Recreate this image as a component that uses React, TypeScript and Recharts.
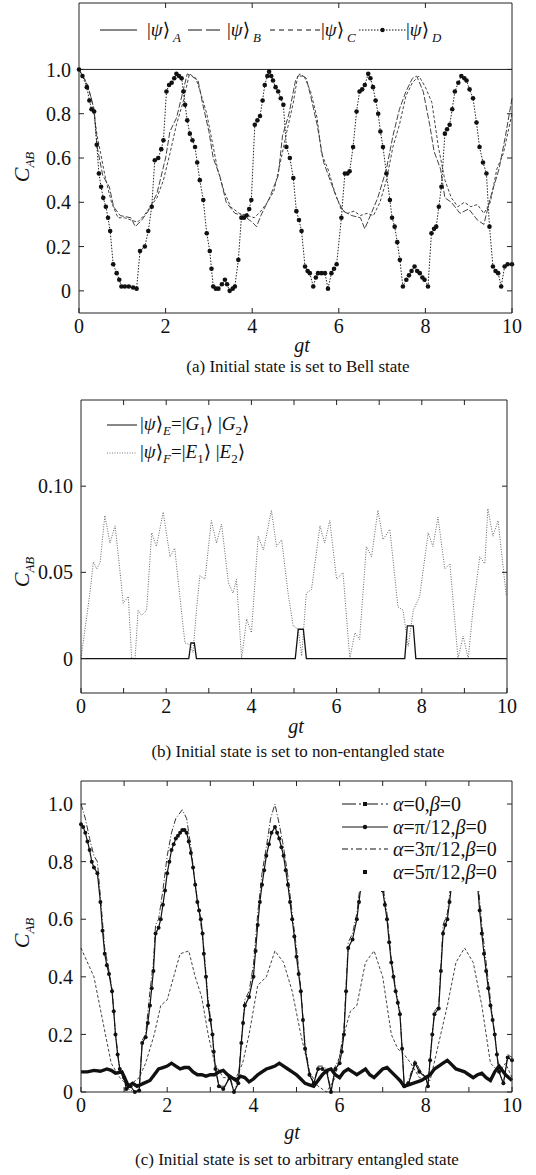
import React from "react";
import { LineChart, Line, XAxis, YAxis, Legend } from "recharts";

const serif = "'Liberation Serif', 'Times New Roman', Tinos, 'DejaVu Serif', serif";
const INK = "#111";

// ---- panel (a): Bell states ----
const gtTicksEven = [0, 2, 4, 6, 8, 10];
const gtTicksAll = [0, 1, 2, 3, 4, 5, 6, 7, 8, 9, 10];
const cTicksA = [0, 0.2, 0.4, 0.6, 0.8, 1.0];
const cTicksB = [0, 0.05, 0.1];

const psiA: [number, number][] = [[0, 1], [10, 1]];
const psiB: [number, number][] = [
  [0, 1.0], [0.2, 0.93], [0.35, 0.82], [0.42, 0.65], [0.55, 0.52], [0.7, 0.47], [0.8, 0.38],
  [0.95, 0.34], [1.2, 0.33], [1.3, 0.29], [1.45, 0.32], [1.6, 0.36], [1.8, 0.44], [2.0, 0.6],
  [2.1, 0.72], [2.25, 0.78], [2.4, 0.9], [2.5, 0.98], [2.6, 0.97], [2.75, 0.95], [2.85, 0.85],
  [3.0, 0.72], [3.1, 0.6], [3.25, 0.52], [3.4, 0.4], [3.6, 0.35], [3.8, 0.34], [4.0, 0.31],
  [4.1, 0.29], [4.2, 0.34], [4.4, 0.42], [4.6, 0.52], [4.7, 0.7], [4.85, 0.8], [5.0, 0.95],
  [5.1, 0.98], [5.25, 0.96], [5.35, 0.88], [5.5, 0.75], [5.65, 0.58], [5.8, 0.5], [5.95, 0.42],
  [6.1, 0.36], [6.3, 0.34], [6.5, 0.33], [6.6, 0.28], [6.75, 0.35], [6.9, 0.42], [7.1, 0.55],
  [7.25, 0.7], [7.4, 0.82], [7.55, 0.9], [7.7, 0.96], [7.8, 0.97], [7.95, 0.9], [8.1, 0.75],
  [8.2, 0.63], [8.35, 0.55], [8.45, 0.42], [8.6, 0.4], [8.8, 0.35], [9.0, 0.37], [9.2, 0.32],
  [9.35, 0.3], [9.5, 0.42], [9.7, 0.55], [9.85, 0.7], [10, 0.87],
];
const psiC: [number, number][] = [
  [0, 1.0], [0.15, 0.95], [0.3, 0.86], [0.42, 0.7], [0.5, 0.62], [0.62, 0.5], [0.75, 0.4],
  [0.9, 0.33], [1.05, 0.33], [1.2, 0.32], [1.35, 0.31], [1.5, 0.34], [1.65, 0.38], [1.8, 0.42],
  [1.95, 0.5], [2.1, 0.62], [2.25, 0.75], [2.4, 0.85], [2.55, 0.98], [2.7, 0.96], [2.8, 0.9],
  [2.95, 0.8], [3.1, 0.65], [3.2, 0.55], [3.35, 0.45], [3.5, 0.38], [3.7, 0.35], [3.9, 0.34],
  [4.05, 0.33], [4.2, 0.36], [4.35, 0.4], [4.5, 0.45], [4.65, 0.58], [4.8, 0.72], [4.95, 0.85],
  [5.05, 0.97], [5.2, 0.97], [5.35, 0.9], [5.5, 0.78], [5.6, 0.62], [5.75, 0.55], [5.9, 0.45],
  [6.05, 0.37], [6.2, 0.35], [6.35, 0.36], [6.5, 0.34], [6.65, 0.35], [6.8, 0.34], [6.95, 0.4],
  [7.1, 0.5], [7.25, 0.65], [7.4, 0.75], [7.55, 0.88], [7.7, 0.94], [7.85, 0.97], [8.0, 0.92],
  [8.15, 0.85], [8.3, 0.65], [8.45, 0.5], [8.6, 0.42], [8.75, 0.38], [8.9, 0.4], [9.05, 0.38],
  [9.2, 0.39], [9.35, 0.35], [9.5, 0.4], [9.65, 0.55], [9.8, 0.62], [10, 0.8],
];
const psiD: [number, number][] = [
  [0, 1.0], [0.08, 0.97], [0.18, 0.92], [0.24, 0.86], [0.29, 0.82], [0.35, 0.81], [0.41, 0.66],
  [0.46, 0.53], [0.51, 0.47], [0.56, 0.42], [0.62, 0.38], [0.67, 0.33], [0.72, 0.27], [0.79, 0.12],
  [0.87, 0.08], [0.93, 0.05], [0.98, 0.02], [1.06, 0.02], [1.15, 0.02], [1.25, 0.015], [1.33, 0.01],
  [1.41, 0.18], [1.52, 0.2], [1.6, 0.27], [1.68, 0.38], [1.75, 0.59], [1.83, 0.6], [1.9, 0.64],
  [1.95, 0.68], [2.02, 0.9], [2.08, 0.93], [2.14, 0.94], [2.2, 0.96], [2.25, 0.98], [2.31, 0.97],
  [2.37, 0.96], [2.41, 0.9], [2.45, 0.84], [2.5, 0.77], [2.56, 0.71], [2.62, 0.68], [2.68, 0.65],
  [2.73, 0.58], [2.79, 0.5], [2.87, 0.41], [2.95, 0.26], [3.02, 0.18], [3.06, 0.1], [3.1, 0.02],
  [3.16, 0.01], [3.22, 0.01], [3.3, 0.03], [3.37, 0.05], [3.42, 0.03], [3.48, 0.0], [3.55, 0.01],
  [3.6, 0.02], [3.68, 0.14], [3.75, 0.33], [3.81, 0.33], [3.87, 0.34], [3.93, 0.37], [3.98, 0.41],
  [4.06, 0.75], [4.12, 0.77], [4.18, 0.79], [4.24, 0.86], [4.29, 0.93], [4.35, 0.97], [4.39, 0.99],
  [4.44, 0.97], [4.48, 0.95], [4.54, 0.92], [4.6, 0.9], [4.66, 0.87], [4.72, 0.84], [4.79, 0.65],
  [4.87, 0.6], [4.95, 0.51], [5.02, 0.36], [5.08, 0.32], [5.14, 0.27], [5.22, 0.11], [5.28, 0.09],
  [5.33, 0.08], [5.41, 0.02], [5.47, 0.06], [5.52, 0.08], [5.6, 0.08], [5.68, 0.08], [5.75, 0.01],
  [5.83, 0.08], [5.89, 0.1], [5.95, 0.12], [6.06, 0.33], [6.14, 0.53], [6.2, 0.53], [6.25, 0.54],
  [6.33, 0.65], [6.41, 0.81], [6.48, 0.9], [6.54, 0.91], [6.6, 0.93], [6.68, 0.98], [6.73, 0.96],
  [6.79, 0.92], [6.85, 0.86], [6.91, 0.8], [6.96, 0.72], [7.02, 0.65], [7.1, 0.53], [7.18, 0.41],
  [7.23, 0.33], [7.29, 0.29], [7.35, 0.22], [7.41, 0.14], [7.48, 0.02], [7.56, 0.05], [7.62, 0.07],
  [7.68, 0.09], [7.75, 0.11], [7.81, 0.09], [7.87, 0.08], [7.93, 0.06], [7.98, 0.05], [8.06, 0.02],
  [8.14, 0.26], [8.2, 0.28], [8.25, 0.29], [8.31, 0.38], [8.37, 0.47], [8.45, 0.71], [8.5, 0.73],
  [8.56, 0.75], [8.62, 0.82], [8.68, 0.9], [8.76, 0.94], [8.83, 0.97], [8.9, 0.96], [8.95, 0.95],
  [9.02, 0.91], [9.1, 0.87], [9.18, 0.76], [9.25, 0.65], [9.33, 0.58], [9.41, 0.53], [9.48, 0.29],
  [9.56, 0.11], [9.62, 0.09], [9.68, 0.08], [9.75, 0.02], [9.83, 0.11], [9.9, 0.12], [10, 0.12],
];

// ---- panel (b): product states ----
const psiE: [number, number][] = [
  [0, 0], [2.53, 0], [2.58, 0.009], [2.66, 0.009], [2.71, 0], [5.03, 0], [5.1, 0.017],
  [5.22, 0.017], [5.29, 0], [7.6, 0], [7.66, 0.019], [7.8, 0.019], [7.86, 0], [10, 0],
];
const psiF: [number, number][] = [
  [0, 0], [0.21, 0.038], [0.29, 0.056], [0.37, 0.052], [0.45, 0.056], [0.56, 0.083], [0.68, 0.067],
  [0.8, 0.077], [0.91, 0.052], [0.99, 0.032], [1.11, 0.036], [1.19, 0], [1.27, 0], [1.34, 0.028],
  [1.42, 0.025], [1.54, 0.028], [1.66, 0.073], [1.77, 0.065], [1.93, 0.085], [2.09, 0.059],
  [2.2, 0.064], [2.32, 0.036], [2.44, 0.009], [2.56, 0.008], [2.63, 0.0035], [2.71, 0.028],
  [2.79, 0.048], [2.91, 0.046], [3.06, 0.08], [3.18, 0.067], [3.3, 0.078], [3.46, 0.044],
  [3.57, 0.038], [3.65, 0.046], [3.77, 0], [3.89, 0.023], [4.0, 0.015], [4.16, 0.071],
  [4.28, 0.063], [4.35, 0.071], [4.47, 0.086], [4.59, 0.065], [4.71, 0.069], [4.86, 0.038],
  [4.98, 0.019], [5.1, 0.017], [5.18, 0.0015], [5.29, 0.038], [5.41, 0.04], [5.61, 0.077],
  [5.72, 0.067], [5.84, 0.08], [6.0, 0.046], [6.15, 0.05], [6.31, 0], [6.43, 0.015], [6.54, 0.011],
  [6.7, 0.065], [6.82, 0.059], [6.97, 0.086], [7.09, 0.069], [7.25, 0.075], [7.44, 0.03],
  [7.56, 0.028], [7.68, 0.007], [7.8, 0.028], [7.95, 0.036], [8.15, 0.073], [8.26, 0.065],
  [8.38, 0.082], [8.54, 0.052], [8.66, 0.055], [8.85, 0], [8.97, 0.013], [9.09, 0], [9.2, 0.028],
  [9.36, 0.059], [9.48, 0.055], [9.55, 0.087], [9.67, 0.071], [9.79, 0.08], [9.98, 0.037],
];

// ---- panel (c): arbitrary entangled states ----
const alpha0: [number, number][] = [
  [0, 1.0], [0.1, 0.95], [0.2, 0.88], [0.3, 0.82], [0.38, 0.8], [0.45, 0.68], [0.55, 0.5], [0.65, 0.42],
  [0.72, 0.36], [0.8, 0.2], [0.9, 0.08], [1.0, 0.04], [1.1, 0.01], [1.25, 0], [1.35, 0.01], [1.42, 0.18],
  [1.5, 0.2], [1.6, 0.35], [1.68, 0.45], [1.73, 0.58], [1.8, 0.6], [1.9, 0.7], [2.0, 0.82], [2.1, 0.9],
  [2.2, 0.95], [2.35, 0.98], [2.45, 0.95], [2.55, 0.85], [2.65, 0.72], [2.75, 0.62], [2.85, 0.5],
  [2.95, 0.32], [3.05, 0.2], [3.12, 0.08], [3.2, 0.02], [3.35, 0.02], [3.45, 0.06], [3.55, 0],
  [3.65, 0.04], [3.72, 0.18], [3.8, 0.32], [3.9, 0.35], [4.0, 0.44], [4.1, 0.62], [4.2, 0.76],
  [4.3, 0.85], [4.4, 0.95], [4.5, 1.0], [4.6, 0.93], [4.7, 0.85], [4.8, 0.75], [4.9, 0.62], [5.0, 0.5],
  [5.1, 0.36], [5.2, 0.16], [5.3, 0.07], [5.4, 0.03], [5.5, 0.09], [5.6, 0.09], [5.7, 0.08], [5.8, 0],
  [5.9, 0.09], [6.0, 0.12], [6.1, 0.22], [6.2, 0.52], [6.3, 0.55], [6.4, 0.62], [6.5, 0.75], [6.7, 0.97],
  [6.9, 0.85], [7.0, 0.72], [7.1, 0.62], [7.2, 0.46], [7.3, 0.36], [7.4, 0.28], [7.5, 0.02], [7.6, 0.04],
  [7.75, 0.11], [7.85, 0.08], [8.0, 0.05], [8.05, 0.02], [8.1, 0.12], [8.2, 0.28], [8.3, 0.3], [8.4, 0.58],
  [8.5, 0.62], [8.6, 0.75], [8.9, 0.97], [9.2, 0.75], [9.3, 0.58], [9.4, 0.45], [9.5, 0.32], [9.6, 0.2],
  [9.7, 0.07], [9.8, 0.03], [9.9, 0.13], [10, 0.12],
];
const alpha1: [number, number][] = [
  [0, 0.93], [0.05, 0.92], [0.1, 0.9], [0.15, 0.87], [0.2, 0.84], [0.25, 0.8], [0.3, 0.78], [0.38, 0.76],
  [0.45, 0.66], [0.5, 0.56], [0.55, 0.48], [0.6, 0.44], [0.65, 0.41], [0.72, 0.35], [0.76, 0.28],
  [0.8, 0.2], [0.85, 0.13], [0.9, 0.08], [1.0, 0.05], [1.05, 0.01], [1.15, 0.02], [1.25, 0], [1.35, 0.005],
  [1.42, 0.17], [1.5, 0.19], [1.55, 0.24], [1.6, 0.3], [1.64, 0.36], [1.68, 0.42], [1.73, 0.55], [1.8, 0.57],
  [1.85, 0.6], [1.9, 0.65], [1.95, 0.7], [2.0, 0.76], [2.05, 0.8], [2.1, 0.84], [2.15, 0.86], [2.2, 0.88],
  [2.25, 0.89], [2.3, 0.9], [2.35, 0.91], [2.4, 0.91], [2.45, 0.9], [2.5, 0.87], [2.55, 0.83], [2.6, 0.78],
  [2.65, 0.72], [2.7, 0.66], [2.74, 0.63], [2.78, 0.6], [2.82, 0.55], [2.85, 0.48], [2.9, 0.4],
  [2.95, 0.3], [3.0, 0.25], [3.05, 0.2], [3.08, 0.14], [3.12, 0.08], [3.2, 0.02], [3.3, 0.01], [3.45, 0.05],
  [3.55, 0], [3.65, 0.03], [3.72, 0.17], [3.76, 0.24], [3.8, 0.3], [3.9, 0.33], [4.0, 0.4], [4.05, 0.49],
  [4.1, 0.58], [4.15, 0.66], [4.2, 0.72], [4.25, 0.77], [4.3, 0.82], [4.36, 0.86], [4.42, 0.9], [4.5, 0.92],
  [4.55, 0.9], [4.6, 0.88], [4.65, 0.85], [4.7, 0.82], [4.75, 0.77], [4.8, 0.72], [4.85, 0.66], [4.9, 0.6],
  [4.95, 0.54], [5.0, 0.47], [5.05, 0.41], [5.1, 0.35], [5.15, 0.25], [5.2, 0.15], [5.3, 0.06], [5.4, 0.03],
  [5.5, 0.08], [5.6, 0.08], [5.7, 0.07], [5.8, 0], [5.9, 0.08], [6.0, 0.1], [6.05, 0.14], [6.1, 0.2],
  [6.15, 0.35], [6.2, 0.5], [6.3, 0.53], [6.4, 0.6], [6.45, 0.66], [6.5, 0.72], [6.7, 0.92], [6.9, 0.82],
  [7.0, 0.7], [7.05, 0.65], [7.1, 0.6], [7.15, 0.52], [7.2, 0.45], [7.25, 0.4], [7.3, 0.35], [7.35, 0.31],
  [7.4, 0.27], [7.45, 0.15], [7.5, 0.02], [7.6, 0.03], [7.75, 0.1], [7.85, 0.07], [8.0, 0.05], [8.05, 0.02],
  [8.1, 0.11], [8.15, 0.2], [8.2, 0.27], [8.3, 0.29], [8.35, 0.42], [8.4, 0.55], [8.45, 0.58], [8.5, 0.6],
  [8.55, 0.66], [8.6, 0.72], [8.9, 0.91], [9.2, 0.72], [9.25, 0.63], [9.3, 0.55], [9.35, 0.48], [9.4, 0.42],
  [9.45, 0.36], [9.5, 0.3], [9.55, 0.25], [9.6, 0.2], [9.65, 0.13], [9.7, 0.07], [9.8, 0.03], [9.9, 0.12],
  [10, 0.11],
];
const alpha3: [number, number][] = [
  [0, 0.5], [0.3, 0.4], [0.5, 0.25], [0.7, 0.1], [0.9, 0.05], [1.1, 0.02], [1.35, 0.05], [1.5, 0.1],
  [1.7, 0.2], [1.85, 0.3], [2.0, 0.32], [2.15, 0.4], [2.3, 0.48], [2.5, 0.49], [2.65, 0.4], [2.8, 0.33],
  [2.95, 0.2], [3.1, 0.1], [3.3, 0.05], [3.6, 0.05], [3.75, 0.1], [3.9, 0.2], [4.1, 0.37], [4.3, 0.4],
  [4.5, 0.49], [4.7, 0.45], [4.9, 0.35], [5.1, 0.2], [5.3, 0.07], [5.5, 0.02], [5.7, 0], [5.9, 0.05],
  [6.1, 0.2], [6.25, 0.28], [6.4, 0.3], [6.6, 0.45], [6.8, 0.49], [7.0, 0.4], [7.2, 0.2], [7.35, 0.15],
  [7.5, 0.13], [7.65, 0.1], [7.85, 0.05], [8.1, 0.04], [8.3, 0.17], [8.5, 0.3], [8.7, 0.45], [8.9, 0.5],
  [9.1, 0.45], [9.3, 0.3], [9.5, 0.1], [9.7, 0.07], [9.85, 0.1], [10, 0.05],
];
const alpha5: [number, number][] = [
  [0, 0.07], [0.15, 0.07], [0.3, 0.075], [0.45, 0.072], [0.6, 0.08], [0.7, 0.075], [0.8, 0.065], [0.95, 0.07],
  [1.1, 0.02], [1.2, 0.03], [1.3, 0.02], [1.45, 0.03], [1.6, 0.04], [1.7, 0.06], [1.8, 0.08], [1.9, 0.085],
  [2.0, 0.09], [2.1, 0.1], [2.2, 0.09], [2.3, 0.08], [2.4, 0.085], [2.5, 0.085], [2.6, 0.07], [2.7, 0.06],
  [2.8, 0.06], [2.9, 0.055], [3.0, 0.06], [3.1, 0.06], [3.2, 0.07], [3.3, 0.075], [3.4, 0.06], [3.5, 0.05],
  [3.6, 0.04], [3.7, 0.055], [3.8, 0.05], [3.9, 0.035], [4.0, 0.045], [4.1, 0.06], [4.2, 0.07], [4.3, 0.08],
  [4.4, 0.085], [4.5, 0.09], [4.6, 0.1], [4.7, 0.09], [4.8, 0.08], [4.9, 0.07], [5.0, 0.06], [5.1, 0.045],
  [5.2, 0.03], [5.3, 0.025], [5.4, 0.02], [5.5, 0.04], [5.6, 0.06], [5.7, 0.075], [5.8, 0.08], [5.9, 0.06],
  [6.0, 0.05], [6.1, 0.07], [6.2, 0.08], [6.3, 0.07], [6.4, 0.06], [6.5, 0.07], [6.6, 0.08], [6.7, 0.06],
  [6.8, 0.05], [6.9, 0.065], [7.0, 0.08], [7.1, 0.085], [7.2, 0.07], [7.3, 0.055], [7.4, 0.04], [7.5, 0.02],
  [7.6, 0.025], [7.7, 0.03], [7.8, 0.035], [7.9, 0.04], [8.0, 0.05], [8.1, 0.06], [8.2, 0.08], [8.3, 0.09],
  [8.4, 0.1], [8.5, 0.11], [8.6, 0.095], [8.7, 0.08], [8.8, 0.075], [8.9, 0.07], [9.0, 0.06], [9.1, 0.05],
  [9.2, 0.06], [9.3, 0.065], [9.4, 0.05], [9.5, 0.04], [9.6, 0.07], [9.7, 0.09], [9.85, 0.06], [10, 0.04],
];

const pts = (arr: [number, number][]) => arr.map(([x, y]) => ({ x, y }));

const tickStyle = { fill: INK, fontSize: 20, fontFamily: serif };

// top and right edges of the plot box with inward ticks, laid over the chart (box decoration only)
function BoxEdges({ left, top, width, height, xTicks, yTicks, yDom }: any) {
  const sy = (v: number) => (height * (yDom[1] - v)) / (yDom[1] - yDom[0]);
  return (
    <svg width={width + 2} height={height + 2} style={{ position: "absolute", left, top, overflow: "visible", pointerEvents: "none" }}>
      <line x1={0} y1={0} x2={width} y2={0} stroke="#222" strokeWidth={1} />
      <line x1={width} y1={0} x2={width} y2={height} stroke="#222" strokeWidth={1} />
      {xTicks.filter((t: number) => t > 0 && t < 10).map((t: number) => (
        <line key={"x" + t} x1={(width * t) / 10} y1={0} x2={(width * t) / 10} y2={5} stroke="#222" strokeWidth={1} />
      ))}
      {yTicks.map((t: number) => (
        <line key={"y" + t} x1={width - 5} y1={sy(t)} x2={width} y2={sy(t)} stroke="#222" strokeWidth={1} />
      ))}
    </svg>
  );
}

function Sample({ w, dash, dot, square, width = 1, color = INK, noLine }: any) {
  return (
    <svg width={w} height={12} style={{ display: "block", flex: "none" }}>
      {!noLine && (
        <line x1={0} y1={6} x2={w} y2={6} stroke={color} strokeWidth={width} strokeDasharray={dash} />
      )}
      {dot && <circle cx={w / 2} cy={6} r={2.2} fill={INK} />}
      {square && <rect x={w / 2 - 2} y={4} width={4} height={4} fill={INK} />}
    </svg>
  );
}

function Psi({ sub, size = 19 }: { sub: string; size?: number }) {
  return (
    <span style={{ fontSize: size, whiteSpace: "nowrap" }}>
      |<i>ψ</i>⟩
      <i style={{ fontSize: size * 0.68, position: "relative", top: size * 0.3, marginLeft: 3 }}>{sub}</i>
    </span>
  );
}

const Sub = ({ s }: { s: string }) => (
  <span style={{ fontSize: 13, position: "relative", top: 5 }}>{s}</span>
);

const LegendA = () => (
  <div style={{ display: "flex", alignItems: "center", fontFamily: serif, color: INK }}>
    <Sample w={37} />
    <span style={{ marginLeft: 10, width: 41 }}><Psi sub="A" /></span>
    <Sample w={32} dash="14 4" />
    <span style={{ marginLeft: 7, width: 43 }}><Psi sub="B" /></span>
    <Sample w={50} dash="5 4" />
    <span style={{ marginLeft: 1, width: 38 }}><Psi sub="C" /></span>
    <Sample w={47} dash="1.5 1.5" dot />
    <span><Psi sub="D" /></span>
  </div>
);

const LegendB = () => (
  <div style={{ fontFamily: serif, color: INK, fontSize: 19, lineHeight: "26px" }}>
    <div style={{ display: "flex", alignItems: "center" }}>
      <Sample w={30} />
      <span style={{ marginLeft: 3 }}>
        |<i>ψ</i>⟩<i><Sub s="E" /></i>=|<i>G</i><Sub s="1" />⟩ |<i>G</i><Sub s="2" />⟩
      </span>
    </div>
    <div style={{ display: "flex", alignItems: "center" }}>
      <Sample w={30} dash="1 1.5" color="#777" />
      <span style={{ marginLeft: 3 }}>
        |<i>ψ</i>⟩<i><Sub s="F" /></i>=|<i>E</i><Sub s="1" />⟩ |<i>E</i><Sub s="2" />⟩
      </span>
    </div>
  </div>
);

const legendCRows = [
  { label: "0", dash: "14 3 2 3", square: true },
  { label: "π/12", dash: undefined, dot: true },
  { label: "3π/12", dash: "6 3 2 3" },
  { label: "5π/12", noLine: true, square: true },
];

const LegendC = () => (
  <div style={{ fontFamily: serif, color: INK, fontSize: 20, lineHeight: "22.5px", background: "#fff", padding: "6px 0 8px 4px", width: 169 }}>
    {legendCRows.map((r, i) => (
      <div key={i} style={{ display: "flex", alignItems: "center" }}>
        <Sample w={46} dash={r.dash} dot={r.dot} square={r.square} noLine={r.noLine} width={1.1} />
        <span style={{ marginLeft: 5 }}>
          <i>α</i>={r.label},<i>β</i>=0
        </span>
      </div>
    ))}
  </div>
);

function Caption({ text, cx, cy, size }: any) {
  return (
    <div style={{ position: "absolute", left: cx - 200, width: 400, top: cy - size * 0.6, lineHeight: `${size * 1.2}px`, textAlign: "center", fontSize: size, fontFamily: serif, color: INK, whiteSpace: "nowrap" }}>
      {text}
    </div>
  );
}

function CLabel({ cx, cy }: { cx: number; cy: number }) {
  return (
    <div style={{ position: "absolute", left: cx - 30, top: cy - 12, width: 60, height: 24, lineHeight: "24px", textAlign: "center", transform: "rotate(-90deg)", fontFamily: serif, color: INK, fontSize: 22 }}>
      <i>C</i><i style={{ fontSize: 13, position: "relative", top: 5 }}>AB</i>
    </div>
  );
}

const fmtA = (v: number) => (v === 0 ? "0" : v.toFixed(1));
const fmtB = (v: number) => (v === 0 ? "0" : v.toFixed(2));
const fmtGt = (v: number) => (v % 2 === 0 ? String(v) : "");

export default function App() {
  return (
    <div style={{ position: "absolute", left: 0, top: 0, width: 536, height: 1175, background: "#fff", fontFamily: serif }}>
      {/* (a) */}
      <div style={{ position: "absolute", left: 0, top: 0 }}>
        <LineChart width={536} height={340} margin={{ top: 3, right: 24, bottom: 0, left: 0 }}>
          <XAxis xAxisId="b" type="number" dataKey="x" domain={[0, 10]} ticks={gtTicksEven} tickSize={-5} tickMargin={11} height={27} stroke="#222" tick={tickStyle} />
          <YAxis yAxisId="l" type="number" domain={[-0.1, 1.3]} ticks={cTicksA} tickSize={-5} tickMargin={13} width={79} stroke="#222" tick={tickStyle} tickFormatter={fmtA} />
          <Legend layout="vertical" align="center" verticalAlign="middle" wrapperStyle={{ left: 100, top: 18, width: 400 }} content={() => <LegendA />} />
          <Line xAxisId="b" yAxisId="l" data={pts(psiA)} dataKey="y" stroke="#222" strokeWidth={1} dot={false} isAnimationActive={false} />
          <Line xAxisId="b" yAxisId="l" data={pts(psiB)} dataKey="y" stroke="#444" strokeWidth={1} strokeDasharray="6 2" dot={false} isAnimationActive={false} />
          <Line xAxisId="b" yAxisId="l" data={pts(psiC)} dataKey="y" stroke="#444" strokeWidth={1} strokeDasharray="3 2" dot={false} isAnimationActive={false} />
          <Line xAxisId="b" yAxisId="l" data={pts(psiD)} dataKey="y" stroke="#222" strokeWidth={1} strokeDasharray="1.5 1.5" dot={{ r: 2.3, fill: INK, stroke: "none" }} isAnimationActive={false} />
        </LineChart>
      </div>
      <BoxEdges left={79} top={3} width={433} height={310} xTicks={gtTicksEven} yTicks={cTicksA} yDom={[-0.1, 1.3]} />
      <CLabel cx={22} cy={167} />
      <Caption text={<i>gt</i>} cx={302} cy={345} size={20} />
      <Caption text="(a) Initial state is set to Bell state" cx={298} cy={367} size={17} />

      {/* (b) */}
      <div style={{ position: "absolute", left: 0, top: 380 }}>
        <LineChart width={536} height={340} margin={{ top: 20, right: 29, bottom: 0, left: 0 }}>
          <XAxis xAxisId="b" type="number" dataKey="x" domain={[0, 10]} ticks={gtTicksAll} tickSize={-5} tickMargin={11} height={27} stroke="#222" tick={tickStyle} tickFormatter={fmtGt} />
          <YAxis yAxisId="l" type="number" domain={[-0.02, 0.15]} ticks={cTicksB} tickSize={-5} tickMargin={13} width={81} stroke="#222" tick={tickStyle} tickFormatter={fmtB} />
          <Legend layout="vertical" align="center" verticalAlign="middle" wrapperStyle={{ left: 107, top: 31, width: 260 }} content={() => <LegendB />} />
          <Line xAxisId="b" yAxisId="l" data={pts(psiF)} dataKey="y" stroke="#666" strokeWidth={1} strokeDasharray="1 1.5" dot={false} isAnimationActive={false} />
          <Line xAxisId="b" yAxisId="l" data={pts(psiE)} dataKey="y" stroke="#111" strokeWidth={1.3} dot={false} isAnimationActive={false} />
        </LineChart>
      </div>
      <BoxEdges left={81} top={400} width={426} height={293} xTicks={gtTicksAll} yTicks={cTicksB} yDom={[-0.02, 0.15]} />
      <CLabel cx={22} cy={572} />
      <Caption text={<i>gt</i>} cx={296} cy={726} size={20} />
      <Caption text="(b) Initial state is set to non-entangled state" cx={298} cy={752} size={17} />

      {/* (c) */}
      <div style={{ position: "absolute", left: 0, top: 760 }}>
        <LineChart width={536} height={359} margin={{ top: 21, right: 24, bottom: 0, left: 0 }}>
          <XAxis xAxisId="b" type="number" dataKey="x" domain={[0, 10]} ticks={gtTicksAll} tickSize={-5} tickMargin={11} height={27} stroke="#222" tick={tickStyle} tickFormatter={fmtGt} />
          <YAxis yAxisId="l" type="number" domain={[0, 1.08]} ticks={cTicksA} tickSize={-5} tickMargin={13} width={81} stroke="#222" tick={tickStyle} tickFormatter={fmtA} />
          <Line xAxisId="b" yAxisId="l" data={pts(alpha3)} dataKey="y" stroke="#444" strokeWidth={1} strokeDasharray="3 2" dot={false} isAnimationActive={false} />
          <Line xAxisId="b" yAxisId="l" data={pts(alpha0)} dataKey="y" stroke="#333" strokeWidth={1} strokeDasharray="6 2 1 2" dot={false} isAnimationActive={false} />
          <Line xAxisId="b" yAxisId="l" data={pts(alpha1)} dataKey="y" stroke="#111" strokeWidth={1.2} dot={{ r: 2, fill: INK, stroke: "none" }} isAnimationActive={false} />
          <Line xAxisId="b" yAxisId="l" data={pts(alpha5)} dataKey="y" stroke="#111" strokeWidth={3.4} dot={false} isAnimationActive={false} />
          <Legend layout="vertical" align="center" verticalAlign="middle" wrapperStyle={{ left: 338, top: 27, width: 172 }} content={() => <LegendC />} />
        </LineChart>
      </div>
      <BoxEdges left={81} top={781} width={431} height={311} xTicks={gtTicksAll} yTicks={cTicksA} yDom={[0, 1.08]} />
      <CLabel cx={22} cy={933} />
      <Caption text={<i>gt</i>} cx={292} cy={1132} size={20} />
      <Caption text="(c) Initial state is set to arbitrary entangled state" cx={297} cy={1160} size={17} />
    </div>
  );
}
